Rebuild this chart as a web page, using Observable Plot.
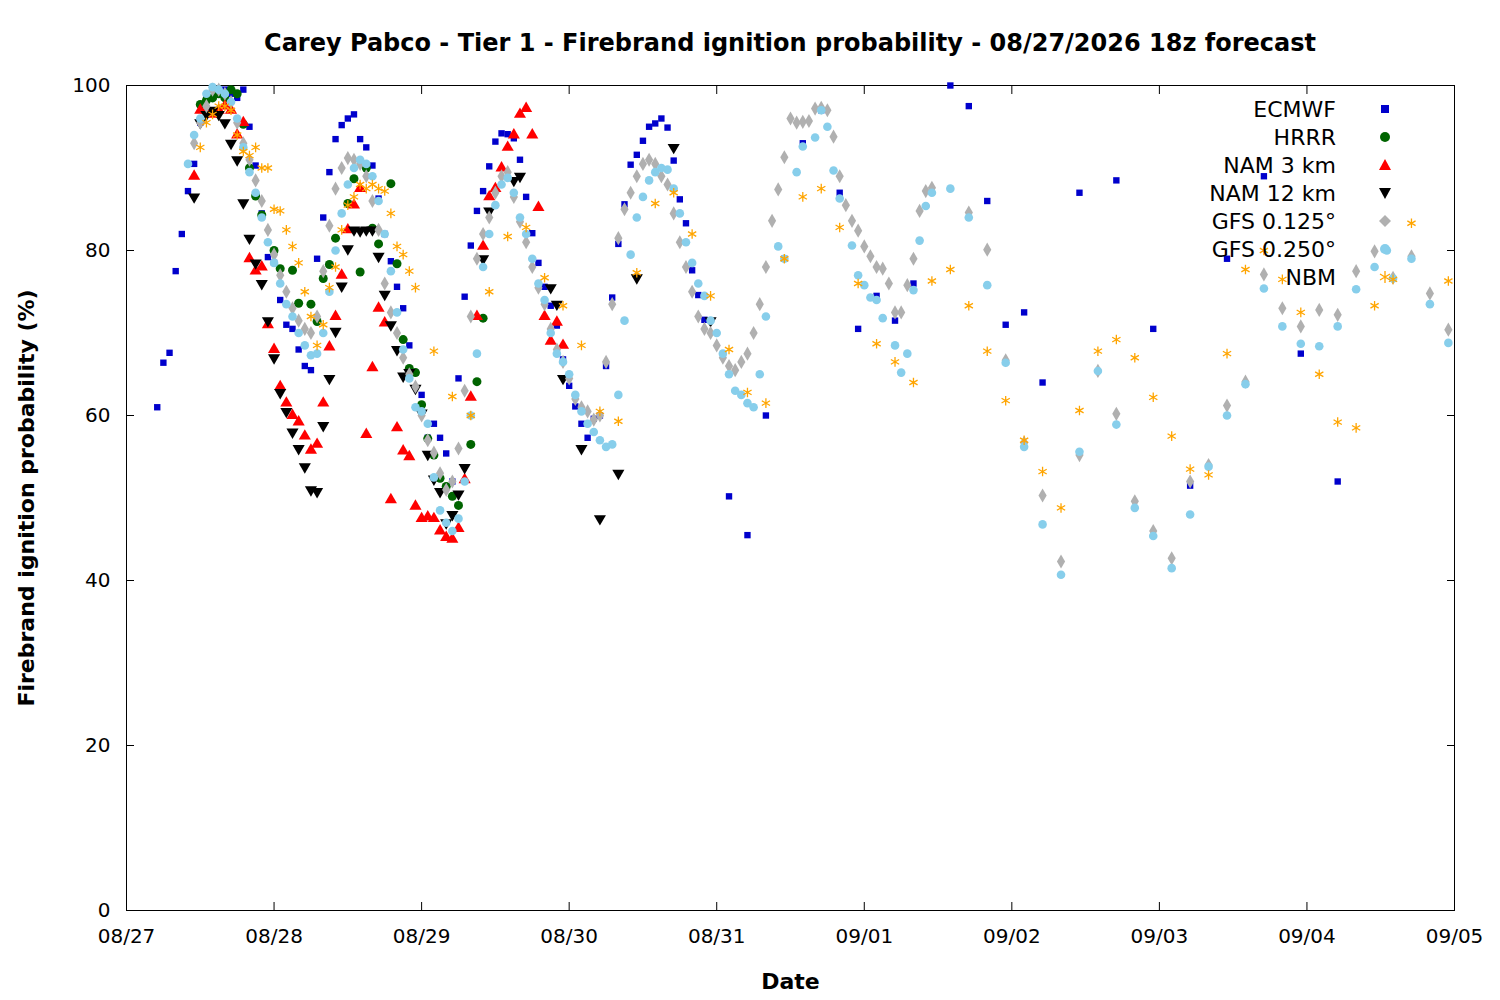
<!DOCTYPE html>
<html><head><meta charset="utf-8">
<script src="https://cdn.jsdelivr.net/npm/d3@7"></script>
<script src="https://cdn.jsdelivr.net/npm/@observablehq/plot@0.6"></script>
<style>
body{margin:0;background:#fff;font-family:"DejaVu Sans",sans-serif;}
#wrap{position:relative;width:1500px;height:1000px;}
#title{position:absolute;top:29px;left:0;width:1580px;text-align:center;font-weight:bold;font-size:24px;}
#legend{position:absolute;top:95px;left:1144px;font-size:22px;}
.row{height:28px;display:flex;align-items:center;justify-content:flex-end;width:250px;}
.row svg{margin-left:40px;}
svg g[aria-label$="tick label"] text{font-size:20px;}
</style></head><body>
<div id="wrap"><div id="chart"></div><div id="title">Carey Pabco - Tier 1 - Firebrand ignition probability - 08/27/2026 18z forecast</div><div id="legend"></div></div>
<script>
const tickHours=[0,24,48,72,96,120,144,168,192,216];
const tickLabels=["08/27","08/28","08/29","08/30","08/31","09/01","09/02","09/03","09/04","09/05"];
const yTicks=[0,20,40,60,80,100];
const seriesNames=["ECMWF","HRRR","NAM 3 km","NAM 12 km","GFS 0.125°","GFS 0.250°","NBM"];

const ecmwfHourly=[5,61,66.4,67.6,77.5,82,87.2,90.5,95.5,98.5,99.5,99.5,99.5,99,98.5,99.5,95,90.3,84.5,79.2,78.5,74,71,70.5,68,66,65.5,79,84,89.5,93.5,95.2,96,96.5,93.5,92.5,90.3,86.3,82,78.7,75.6,73,68.5,65.2,62.5,57.3,59,57.3,55.4,52,64.5,74.4,80.6,84.8,87.2,90.2,93.2,94.2,94.1,93.6,91,86.5,82.1,78.5,75.6,73.3,70.9,66.8,63.6,61.1,59,57.3,59.6,60,66,74.3,80.8,85.6,90.4,91.6,93.3,95,95.4,96,94.9,90.9,86.2,83.3,77.6,74.6,71.6];
const ecmwfLate=[[98,50.2],[101,45.5],[104,60],[107,79],[110,93],[113,97],[116,87],[119,70.5],[122,74.5],[125,71.5],[128,76],[134,100],[137,97.5],[140,86],[143,71],[146,72.5],[149,64],[155,87],[161,88.5],[167,70.5],[173,51.5],[179,79],[185,89],[191,67.5],[197,52]];
const hrrr=[[12,97.7],[13,98.2],[14,98.5],[15,99],[16,98.5],[17,99.5],[18,99],[19,95.3],[20,90],[21,86.6],[22,84.3],[24,80],[25,77.8],[27,77.6],[28,73.6],[30,73.5],[31,71.4],[32,76.6],[33,78.3],[34,81.5],[36,85.7],[37,88.7],[38,77.4],[39,90],[40,82.7],[41,80.8],[43,88.1],[44,78.4],[45,69.2],[46,65.7],[47,65.2],[48,61.3],[49,57.2],[50,55.2],[51,52.4],[52,51.4],[53,50.2],[54,49.1],[56,56.5],[57,64.1],[58,71.8]];
const nam3Hourly=[11,89,97,97,96.5,97,97.5,97,94,95.5,79,77.5,78,71,68,63.5,61.5,60,59.2,57.5,55.8,56.5,61.5,68.3,72,77,82.5,85.5,87.5,57.7,65.8,73,71.2,49.8,58.5,55.7,55,49,47.5,47.7,47.5,46,45.2,45,46.3,52.2,62.2,72,80.5,86.5,87.5,90,92.5,94,96.5,97.2,94,85.2,72,69,71.3,68.5];
const nam12Hourly=[11,86.5,95.5,96.5,97,96.5,95.5,93,91,85.8,81.5,78.5,76,71.5,67,62.8,60.5,58,56,53.8,51,50.8,58.8,64.5,70.2,75.7,80.2,82.5,82.4,82.5,82.5,79.3,74.7,71,68,64.8,65.2,63.3,60.3,55.3,52.3,50.8,47,48,50.5,53.7];
const nam12Late=[[58,79],[59,84.8],[63,88.5],[64,89],[69,75.5],[70,73.5],[71,64.5],[74,56],[77,47.5],[80,53],[83,76.7],[89,92.5],[95,71.5]];
const gfs125Hourly=[11,93,95.5,97.5,99.5,99.5,99,98,95.5,93,91,88.5,86,82.5,79.5,77,75,73,71.5,70.5,70,72,77.5,83,87.5,90,91.2,91,90.5,89,86,82.5,76,72.5,70,67,65,63.5,60,57,55.5,53,51,52,56,63,72,79,82,84,87,89,89.5,86.5,83.5,81,78,75.5,73.5,70.5,68,66.5,64.5,62,61,60.5,59.5,60,66.5,73.5,81.5,85,87,89,90.5,91,90.5,89,88,84.5,81,78,75,72,70.5,70,68.5,67,66,65.5,66.5,67.5,70,73.5];
const gfs125Late=[[104,78],[105,83.6],[106,87.4],[107,91.3],[108,96],[109,95.5],[110,95.6],[111,95.7],[112,97.2],[113,97.3],[114,97],[115,93.8],[116,89],[117,85.5],[118,83.6],[119,82.4],[120,80.5],[121,79.3],[122,78],[123,77.8],[124,76],[125,72.5],[126,72.5],[127,75.8],[128,79],[129,84.8],[130,87.2],[131,87.6],[137,84.6],[140,80.1],[143,66.7],[146,56.7],[149,50.3],[152,42.3],[155,55.2],[158,65.4],[161,60.2],[164,49.6],[167,46],[170,42.7],[173,52],[176,54],[179,61.2],[182,64.1],[185,77.1],[188,73],[191,70.8],[194,72.8],[197,72.2],[200,77.5],[203,79.9],[206,76.7],[209,79.3],[212,74.8],[215,70.4]];
const gfs250Hourly=[10,90.5,94,96,99,99.8,99.5,99,98,96,92.5,89.5,87,84,81,78.5,76,73.5,72,70,68.5,67.3,67.5,70,75,80,84.5,88,90,91,90.5,89,86,82,77.5,72.5,68,64.5,61,60.5,59,52.5,48.5,47,46,47.5,52,60,67.5,78,82,85.5,88,88.8,87,84,82,79,76,74,70,67.5,66.5,65,62.5,60.5,59,58,57,56.2,56.5,62.5,71.5,79.5,84,86.5,88.5,89.5,90,89.8,87.5,84.5,81,78.5,76,74.5,71.5,70,67.5,65,63,62.5,61.5,61,65];
const gfs250Late=[[104,72],[106,80.5],[107,79],[109,89.5],[110,92.6],[112,93.7],[113,97],[114,95],[115,89.7],[116,86.3],[118,80.6],[119,77],[120,75.8],[121,74.3],[122,74],[123,71.8],[125,68.5],[126,65.2],[127,67.5],[128,75.2],[129,81.2],[130,85.4],[131,87],[134,87.5],[137,84],[140,75.8],[143,66.4],[146,56.2],[149,46.8],[152,40.7],[155,55.6],[158,65.4],[161,58.9],[164,48.8],[167,45.4],[170,41.5],[173,48],[176,53.8],[179,60],[182,63.8],[185,75.4],[188,70.8],[191,68.7],[194,68.4],[197,70.8],[200,75.3],[203,78],[205,80],[206,76.6],[209,79],[212,73.5],[215,68.8]];
const nbmHourly=[12,92.5,95.5,96.5,97.5,97.5,97,94,92,91.5,92.5,90,90,85,84.8,82.5,80.5,78.5,75,72,68.5,71,75.5,78,82.5,85.5,86.5,88,87.5,88,87.5,87.2,84.5,80.5,79.5,77.5,75.5];
const nbmLate=[[50,67.8],[53,62.3],[56,60],[59,75],[62,81.7],[65,82.8],[68,76.7],[71,73.3],[74,68.5],[77,60.5],[80,59.3],[83,77.3],[86,85.7],[89,87],[92,82],[95,74.5],[98,68],[101,62.8],[104,61.5],[107,79],[110,86.5],[113,87.5],[116,82.8],[119,76],[122,68.7],[125,66.5],[128,64],[131,76.3],[134,77.7],[137,73.3],[140,67.8],[143,61.8],[146,57],[149,53.2],[152,48.8],[155,60.6],[158,67.8],[161,69.2],[164,67],[167,62.2],[170,57.5],[173,53.5],[176,52.8],[179,67.5],[182,77.7],[185,80],[188,76.5],[191,72.5],[194,65],[197,59.2],[200,58.5],[203,73.3],[206,76.5],[209,83.3],[215,76.3]];

const fromHourly=a=>a.slice(1).map((v,i)=>({h:a[0]+i,v}));
const fromPairs=a=>a.map(([h,v])=>({h,v}));
const data={
 ecmwf:fromHourly(ecmwfHourly).concat(fromPairs(ecmwfLate)),
 hrrr:fromPairs(hrrr),
 nam3:fromHourly(nam3Hourly),
 nam12:fromHourly(nam12Hourly).concat(fromPairs(nam12Late)),
 g125:fromHourly(gfs125Hourly).concat(fromPairs(gfs125Late)),
 g250:fromHourly(gfs250Hourly).concat(fromPairs(gfs250Late)),
 nbm:fromHourly(nbmHourly).concat(fromPairs(nbmLate))
};
const styles=[
 {k:"ecmwf",symbol:"square",fill:"#0000cc",r:3.6},
 {k:"hrrr",symbol:"circle",fill:"#006400",r:4.5},
 {k:"nam3",symbol:"triangle",fill:"#ff0000",r:4.5},
 {k:"nam12",symbol:"triangle",fill:"#000000",r:4.5,rotate:180},
 {k:"g125",symbol:"diamond",fill:"#b0b0b0",r:4.3},
 {k:"g250",symbol:"circle",fill:"#87ceeb",r:4.3},
 {k:"nbm",symbol:"asterisk",stroke:"#ffa500",r:4.5}
];
const marks=[Plot.frame({stroke:"black"})];
for(const s of styles){
  const o={x:"h",y:"v",symbol:()=>s.symbol,r:s.r};
  if(s.stroke){o.stroke=s.stroke;o.strokeWidth=1.3;o.fill="none";}else{o.fill=s.fill;o.stroke="none";}
  if(s.rotate)o.rotate=s.rotate;
  marks.push(Plot.dot(data[s.k],o));
}
marks.push(Plot.axisX({ticks:tickHours,tickFormat:(d)=>tickLabels[tickHours.indexOf(d)],tickSize:-8,tickPadding:26,label:"Date",labelAnchor:"center",labelArrow:"none",labelOffset:78}));
marks.push(Plot.axisX({anchor:"top",ticks:tickHours,tickFormat:()=>"",tickSize:-8,label:null}));
marks.push(Plot.axisY({ticks:yTicks,tickSize:-8,tickPadding:24,label:"Firebrand ignition probability (%)",labelAnchor:"center",labelArrow:"none",labelOffset:108}));
marks.push(Plot.axisY({anchor:"right",ticks:yTicks,tickFormat:()=>"",tickSize:-8,label:null}));
const chart=Plot.plot({width:1500,height:1000,marginLeft:126,marginRight:46,marginTop:85,marginBottom:90,
 x:{domain:[0,216]},y:{domain:[0,100]},symbol:{type:"identity"},style:{fontFamily:"DejaVu Sans",fontSize:"20px",color:"black",background:"white"},marks});
chart.querySelectorAll('text').forEach(t=>{t.style.fontSize="20px";});
chart.querySelectorAll('[aria-label="x-axis label"] text,[aria-label="y-axis label"] text').forEach(t=>{t.style.fontWeight="bold";t.style.fontSize="22px";});
document.getElementById("chart").appendChild(chart);
const leg=document.getElementById("legend");
const shapes={square:'<rect x="5" y="5" width="8" height="8"/>',circle:'<circle cx="9" cy="9" r="5"/>',triangle:'<path d="M9,3L15,14L3,14Z"/>',diamond:'<path d="M9,3L15,9L9,15L3,9Z"/>'};
styles.forEach((s,i)=>{
  let g;
  if(s.symbol==="asterisk")g=`<g stroke="${s.stroke}" stroke-width="1.3"><path d="M9,3V15M4,6L14,12M4,12L14,6"/></g>`;
  else g=`<g fill="${s.fill}" ${s.rotate?'transform="rotate(180 9 9)"':''}>${shapes[s.symbol]}</g>`;
  leg.innerHTML+=`<div class="row"><span>${seriesNames[i]}</span><svg width="18" height="18">${g}</svg></div>`;
});
</script></body></html>
